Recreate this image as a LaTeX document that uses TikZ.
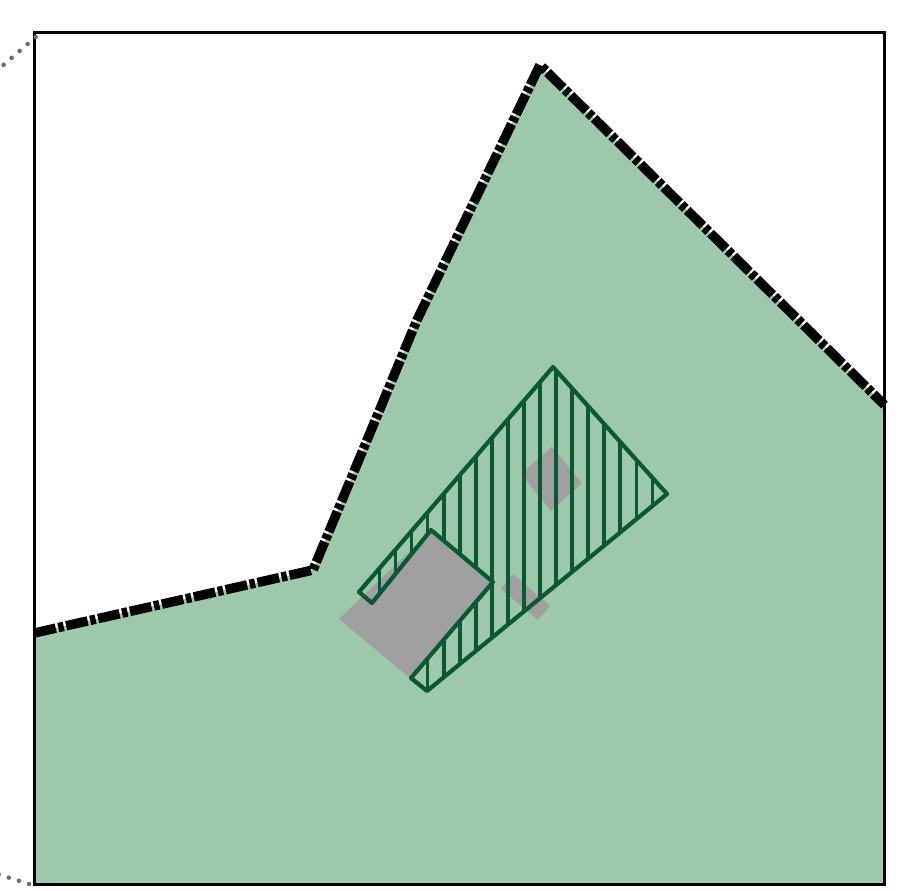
\documentclass[tikz,border=0pt]{standalone}
\definecolor{areagreen}{RGB}{157,200,170}
\definecolor{hatchgreen}{RGB}{12,88,52}
\definecolor{blockgray}{RGB}{160,160,160}
\definecolor{dotgray}{RGB}{110,110,110}
\tikzset{
  boundary/.style={line width=9.5pt, line join=round, dash pattern=on 22pt off 2.6pt on 5.5pt off 2.6pt},
  hatchline/.style={draw=hatchgreen, line width=3.6pt},
  hatchedge/.style={draw=hatchgreen, line width=4.2pt, line join=round},
  frameline/.style={draw=black, line width=2.6pt},
  dotline/.style={draw=dotgray, line width=4.6pt, line cap=round, dash pattern=on 0pt off 10.6pt},
}
\begin{document}
\begin{tikzpicture}[x=1pt,y=-1pt]
\useasboundingbox (0,0) rectangle (900,891);
% green area
\fill[areagreen] (34.3,633) -- (313,570) -- (417,320) -- (540,65) -- (884.5,405) -- (884.5,884.3) -- (34.3,884.3) -- cycle;
% gray blocks
\fill[blockgray] (339,619) -- (431,531) -- (493,582) -- (410,678) -- cycle;
\fill[blockgray] (552,447) -- (582,483) -- (551,511) -- (521,474) -- cycle;
\fill[blockgray] (513,574) -- (550,606) -- (538,620) -- (501,589) -- cycle;
% hatched polygon
\begin{scope}
\clip (553,367) -- (667,494) -- (427,691) -- (411,678) -- (493,582) -- (431,530) -- (372,603) -- (359,592) -- cycle;
\foreach \k in {0,...,17}{
  \draw[hatchline] ({379.5+16.05*\k},350) -- ({379.5+16.05*\k},700);
}
\end{scope}
\draw[hatchedge] (553,367) -- (667,494) -- (427,691) -- (411,678) -- (493,582) -- (431,530) -- (372,603) -- (359,592) -- cycle;
% dashed boundary
\draw[boundary] (34.3,633) -- (313,570) -- (417,320) -- (540,65) -- (884.5,405);
% frame
\draw[frameline] (34.3,32.7) rectangle (884.5,884.3);
% dotted lines
\draw[dotline] (35.6,37) -- (-8,75);
\draw[dotline] (29,884) -- (-12,871);
\end{tikzpicture}
\end{document}
